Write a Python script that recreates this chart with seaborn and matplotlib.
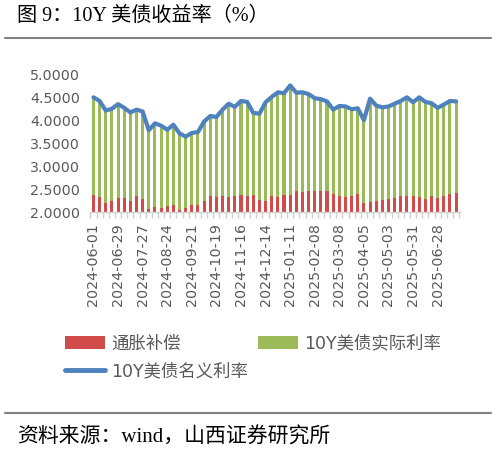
import numpy as np
import pandas as pd
import matplotlib
matplotlib.use("Agg")
import matplotlib.pyplot as plt
import seaborn as sns
from matplotlib.lines import Line2D
from matplotlib.patches import Patch
from matplotlib.ticker import FormatStrFormatter

# --- Data (weekly) ---
dates = pd.date_range("2024-06-01", periods=60, freq="7D").strftime("%Y-%m-%d").tolist()

inflation = [2.37, 2.32, 2.19, 2.24, 2.30, 2.30, 2.24, 2.34, 2.29, 2.06,
             2.11, 2.08, 2.14, 2.15, 2.04, 2.09, 2.15, 2.16, 2.24, 2.34,
             2.33, 2.35, 2.32, 2.36, 2.37, 2.36, 2.37, 2.27, 2.25, 2.35,
             2.32, 2.37, 2.37, 2.46, 2.43, 2.46, 2.45, 2.45, 2.45, 2.39,
             2.35, 2.32, 2.35, 2.39, 2.20, 2.22, 2.24, 2.27, 2.28, 2.31,
             2.35, 2.34, 2.35, 2.33, 2.29, 2.34, 2.31, 2.34, 2.39, 2.41]

real_rate = [2.14, 2.11, 2.03, 2.02, 2.06, 1.98, 1.94, 1.90, 1.91, 1.73,
             1.83, 1.81, 1.66, 1.76, 1.68, 1.56, 1.58, 1.59, 1.74, 1.76,
             1.75, 1.89, 2.05, 1.94, 2.06, 2.05, 1.80, 1.88, 2.15, 2.17,
             2.30, 2.23, 2.40, 2.15, 2.19, 2.12, 2.04, 2.02, 1.97, 1.85,
             1.97, 1.99, 1.90, 1.88, 1.81, 2.26, 2.09, 2.02, 2.03, 2.06,
             2.08, 2.17, 2.05, 2.18, 2.12, 2.04, 1.97, 2.01, 2.04, 2.01]

nominal = [4.51, 4.43, 4.22, 4.26, 4.36, 4.28, 4.18, 4.24, 4.20, 3.79,
           3.94, 3.89, 3.80, 3.91, 3.72, 3.65, 3.73, 3.75, 3.98, 4.10,
           4.08, 4.24, 4.37, 4.30, 4.43, 4.41, 4.17, 4.15, 4.40, 4.52,
           4.62, 4.60, 4.77, 4.61, 4.62, 4.58, 4.49, 4.47, 4.42, 4.24,
           4.32, 4.31, 4.25, 4.27, 4.01, 4.48, 4.33, 4.29, 4.31, 4.37,
           4.43, 4.51, 4.40, 4.51, 4.41, 4.38, 4.28, 4.35, 4.43, 4.42]

yticks = [2.0, 2.5, 3.0, 3.5, 4.0, 4.5, 5.0]
label_names = ["通胀补偿", "10Y美债实际利率", "10Y美债名义利率"]

RED = "#D24B4B"
GREEN = "#9BBB59"
BLUE = "#4F81BD"
GRAY_TXT = "#595959"

df = pd.DataFrame({"date": dates, "inflation": inflation, "real": real_rate, "nominal": nominal})
df["stack_top"] = df["inflation"] + df["real"]

# --- Style ---
sns.set_style("white")
plt.rcParams["font.family"] = ["DejaVu Sans", "Noto Sans CJK SC"]

fig = plt.figure(figsize=(4.96, 4.54), dpi=100)
ax = fig.add_axes([0.181, 0.533, 0.746, 0.302])

sns.barplot(data=df, x="date", y="stack_top", color=GREEN, saturation=1, width=0.5, linewidth=0, ax=ax)
sns.barplot(data=df, x="date", y="inflation", color=RED, saturation=1, width=0.5, linewidth=0, ax=ax)
sns.lineplot(x=np.arange(len(df)), y=df["nominal"], color=BLUE, linewidth=3.0,
             solid_joinstyle="round", solid_capstyle="round", ax=ax)

ax.set_xlim(-0.6, len(df) - 0.4)
ax.set_ylim(2.0, 5.0)
ax.set_yticks(yticks)
ax.yaxis.set_major_formatter(FormatStrFormatter("%.4f"))
ax.set_xlabel("")
ax.set_ylabel("")

ax.set_xticks(range(0, len(df), 4))
ax.set_xticklabels(dates[::4], rotation=90)
ax.set_xticks(np.arange(-0.5, len(df), 1), minor=True)
ax.tick_params(axis="x", which="major", length=0, pad=8, labelsize=10.3, labelcolor=GRAY_TXT)
ax.tick_params(axis="x", which="minor", length=4, width=1, color="#D0D0D0", bottom=True)
ax.tick_params(axis="y", length=0, pad=7, labelsize=10.3, labelcolor=GRAY_TXT)

for side in ["top", "right", "left"]:
    ax.spines[side].set_visible(False)
ax.spines["bottom"].set_color("#D0D0D0")
ax.spines["bottom"].set_linewidth(1)

# --- Legend ---
handles = [
    Patch(facecolor=RED, edgecolor="none"),
    Line2D([0], [0], color=BLUE, linewidth=3.5, solid_capstyle="round"),
    Patch(facecolor=GREEN, edgecolor="none"),
]
labels = [label_names[0], label_names[2], label_names[1]]
fig.legend(handles, labels, ncol=2, loc="upper left", bbox_to_anchor=(0.131, 0.263),
           frameon=False, prop={"size": 12.5}, labelcolor=GRAY_TXT,
           handlelength=2.3, handleheight=0.7, handletextpad=0.35,
           labelspacing=0.55, columnspacing=0.6, borderpad=0, borderaxespad=0)

# --- Title, source, rules ---
fig.text(0.034, 0.965, "图 9：10Y 美债收益率（%）", fontsize=14.5, va="center", ha="left",
         family=["Liberation Serif", "Noto Sans CJK SC"], color="black")
fig.add_artist(Line2D([0.01, 0.99], [0.916, 0.916], transform=fig.transFigure, color="#808080", linewidth=1.5))
fig.add_artist(Line2D([0.01, 0.99], [0.0903, 0.0903], transform=fig.transFigure, color="#808080", linewidth=1.5))
fig.text(0.034, 0.035, "资料来源：wind，山西证券研究所", fontsize=15, va="center", ha="left",
         family=["Liberation Serif", "Noto Sans CJK SC"], color="black")

fig.savefig("out.png", dpi=100)
